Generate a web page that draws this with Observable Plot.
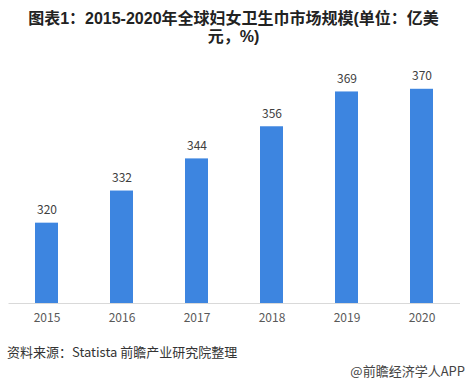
<!DOCTYPE html>
<html>
<head>
<meta charset="utf-8">
<script src="https://cdn.jsdelivr.net/npm/d3@7"></script>
<script src="https://cdn.jsdelivr.net/npm/@observablehq/plot@0.6"></script>
<style>
  html, body { margin: 0; padding: 0; background: #fff; }
  body { width: 467px; height: 385px; overflow: hidden; font-family: "Noto Sans CJK SC", "Noto Sans", sans-serif; }
  #title { box-sizing: border-box; height: 52px; padding-top: 10px; text-align: center; font-family: "Liberation Sans", "Noto Sans CJK SC", sans-serif; font-weight: bold; font-size: 16px; line-height: 18px; color: #222; }
  #footer { position: relative; height: 53px; }
  #source { position: absolute; left: 7px; top: 11px; font-size: 13px; line-height: 18px; color: #333; white-space: nowrap; }
  #credit { position: absolute; right: 2px; top: 30px; font-size: 13px; line-height: 18px; color: #444; white-space: nowrap; }
  svg { display: block; }
</style>
</head>
<body>
<div id="title">图表1：2015-2020年全球妇女卫生巾市场规模(单位：亿美<br>元，%)</div>
<div id="chart"></div>
<div id="footer">
  <div id="source">资料来源：Statista 前瞻产业研究院整理</div>
  <div id="credit">@前瞻经济学人APP</div>
</div>
<script>
const years = ["2015", "2016", "2017", "2018", "2019", "2020"];
const values = [320, 332, 344, 356, 369, 370];
const yBase = 290;
const yTop = 380;

const data = years.map((y, i) => ({year: y, value: values[i]}));

const chart = Plot.plot({
  width: 467,
  height: 280,
  marginLeft: 8.5,
  marginRight: 7,
  marginTop: 10,
  marginBottom: 29,
  style: {fontFamily: '"Noto Sans CJK SC", "Noto Sans", sans-serif', background: "#fff"},
  x: {domain: years, paddingInner: 0.69, paddingOuter: 0.345, label: null},
  y: {domain: [yBase, yTop], axis: null},
  marks: [
    Plot.barY(data, {x: "year", y1: yBase, y2: "value", fill: "#3d85e0"}),
    Plot.ruleY([yBase], {stroke: "#d9d9d9", strokeWidth: 1}),
    Plot.text(data, {x: "year", y: "value", text: d => String(d.value), dy: -13, fontSize: 12, fill: "#404040"}),
    Plot.axisX({tickSize: 0, tickPadding: 10, fontSize: 12, color: "#595959", label: null})
  ]
});
document.getElementById("chart").appendChild(chart);
</script>
</body>
</html>
